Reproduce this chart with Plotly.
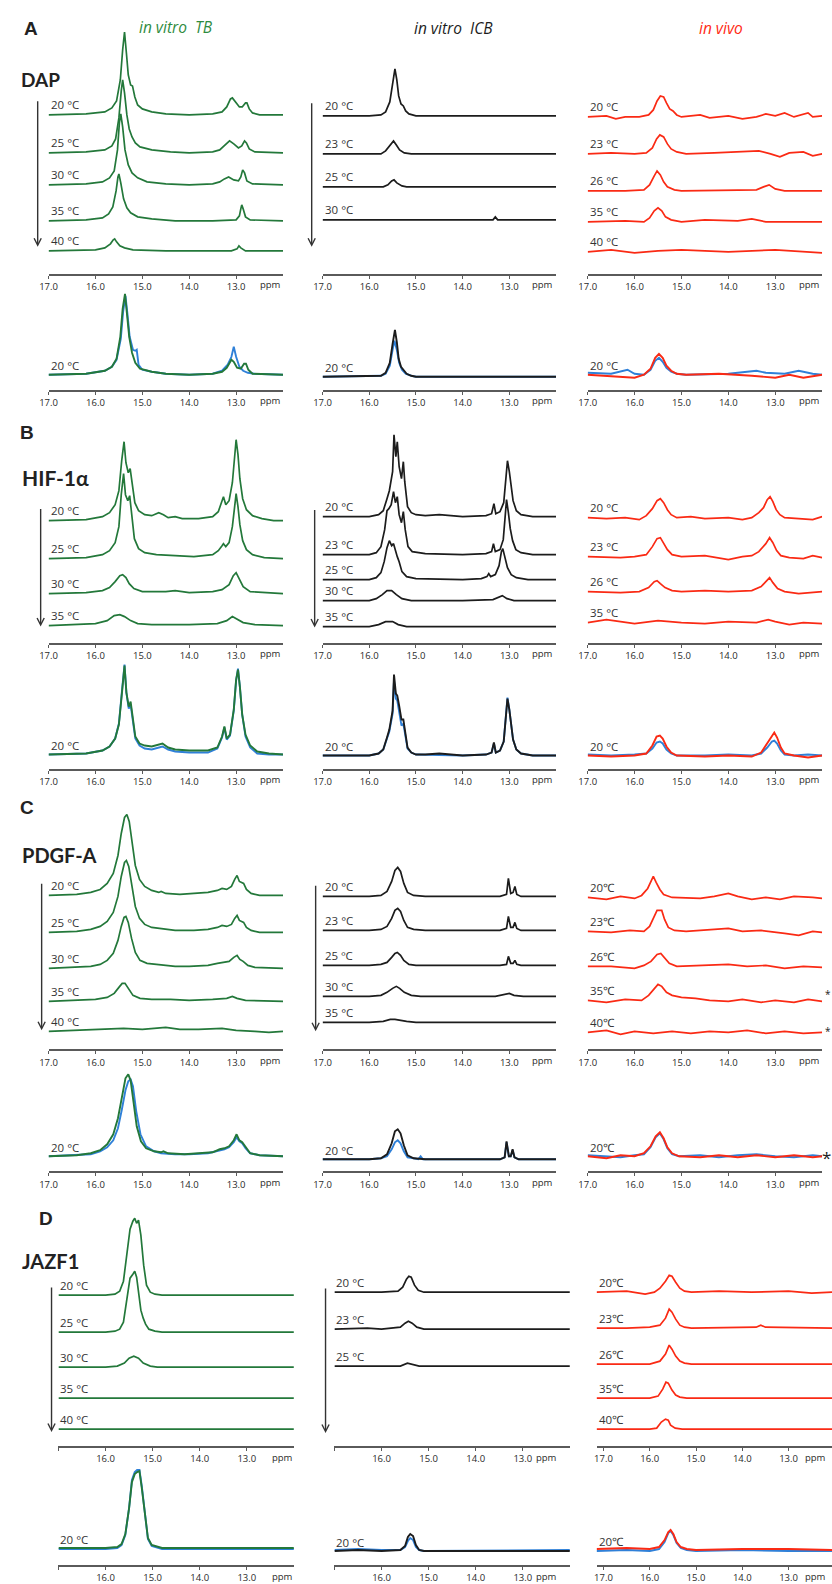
import plotly.graph_objects as go

W, H = 832, 1584

# ---------------------------------------------------------------
# DATA  (spectra read off the picture as "ppm:intensity" vertices,
# intensity in arbitrary units above each trace's baseline)
# ---------------------------------------------------------------
COLUMN_TITLES = ["in vitro  TB", "in vitro  ICB", "in vivo"]
SECTIONS = ["A", "B", "C", "D"]
CONSTRUCTS = ["DAP", "HIF-1α", "PDGF-A", "JAZF1"]
TICK_VALUES = [17.0, 16.0, 15.0, 14.0, 13.0]
TICK_LABELS = ["17.0", "16.0", "15.0", "14.0", "13.0"]

# ---- A : DAP ----
DAP_TB_TEMPS = ["20 °C", "25 °C", "30 °C", "35 °C", "40 °C"]
DAP_TB = [
    "17.0:0 16.2:1 15.8:3 15.65:7 15.55:14 15.47:35 15.42:65 15.38:83 15.34:62 15.3:40 15.25:30 15.21:29 15.16:18 15.1:10 15.0:6 14.8:3 14.5:1 14.0:0 13.5:1 13.3:3 13.2:8 13.12:16 13.08:17 13.0:12 12.93:8 12.87:8 12.8:12 12.77:12 12.72:6 12.65:2 12.5:0 12.0:0",
    "17.0:0 16.2:1 15.8:3 15.65:7 15.57:14 15.5:35 15.45:62 15.42:73 15.38:60 15.33:38 15.28:24 15.22:16 15.15:10 15.05:6 14.8:3 14.4:1 14.0:0 13.5:1 13.35:3 13.22:8 13.14:12 13.05:9 12.95:5 12.88:7 12.82:12 12.78:10 12.72:4 12.6:1 12.0:0",
    "17.0:0 16.2:1 15.85:3 15.7:7 15.6:14 15.53:35 15.49:62 15.46:71 15.42:58 15.37:35 15.3:20 15.22:12 15.1:7 14.9:3 14.5:1 14.0:0 13.5:1 13.35:3 13.25:6 13.16:8 13.05:5 12.95:4 12.9:8 12.86:15 12.82:12 12.77:4 12.65:1 12.0:0",
    "17.0:0 16.2:1 15.85:3 15.72:7 15.63:14 15.56:30 15.52:44 15.5:47 15.46:38 15.4:22 15.33:13 15.25:8 15.1:4 14.8:2 14.3:0 13.5:0 13.0:1 12.93:5 12.9:12 12.88:16 12.85:12 12.8:4 12.7:1 12.0:0",
    "17.0:0 16.0:1 15.8:3 15.68:7 15.62:11 15.59:12 15.55:9 15.48:5 15.38:3 15.2:1 14.5:0 13.1:0 12.98:2 12.94:5 12.9:3 12.8:0 12.0:0",
]
DAP_ICB_TEMPS = ["20 °C", "23 °C", "25 °C", "30 °C"]
DAP_ICB = [
    "17.0:0 16.0:0 15.75:1 15.65:4 15.56:14 15.5:32 15.45:47 15.41:36 15.37:20 15.32:12 15.27:10 15.22:5 15.15:2 15.0:0 12.0:0",
    "17.0:0 15.75:0 15.65:3 15.55:9 15.48:13 15.42:9 15.35:4 15.25:1 15.1:0 12.0:0",
    "17.0:0 15.7:0 15.6:2 15.52:6 15.47:7 15.41:4 15.3:1 15.2:0 12.0:0",
    "17.0:0 13.35:0 13.3:3 13.25:0 12.0:0",
]
DAP_VIVO_TEMPS = ["20 °C", "23 °C", "26 °C", "35 °C", "40 °C"]
DAP_VIVO = [
    "17.0:0 16.6:1 16.4:-2 16.2:0 15.9:0 15.7:2 15.6:7 15.52:16 15.45:21 15.38:20 15.32:14 15.25:8 15.18:6 15.1:2 15.0:0 14.6:2 14.4:-1 14.0:1 13.7:-2 13.4:0 13.2:3 13.0:1 12.8:4 12.6:0 12.3:4 12.2:0 12.0:1",
    "17.0:0 16.5:1 16.0:0 15.75:1 15.62:6 15.53:15 15.46:19 15.38:17 15.3:10 15.22:5 15.1:2 14.9:0 14.3:1 13.6:2 13.35:3 13.1:0 12.9:-3 12.7:1 12.4:2 12.2:-2 12.0:0",
    "17.0:0 16.2:0 15.8:1 15.68:6 15.58:15 15.52:20 15.45:16 15.38:9 15.3:4 15.15:1 15.0:0 13.4:1 13.25:4 13.13:6 13.0:2 12.8:0 12.0:0",
    "17.0:0 16.2:1 15.8:0 15.68:4 15.58:11 15.5:14 15.42:11 15.34:5 15.22:2 15.0:0 14.5:2 13.8:1 13.5:3 13.2:0 12.0:0",
    "17.0:0 16.5:2 16.0:-1 15.5:1 15.0:2 14.0:0 13.0:2 12.0:-1",
]
DAP_OVERLAY_TB = [
    "17.0:0 16.2:1 15.8:4 15.65:8 15.55:15 15.46:36 15.41:63 15.36:79 15.32:62 15.27:38 15.2:25 15.15:24 15.12:25 15.08:10 15.0:5 14.8:3 14.5:1 14.0:0 13.5:1 13.3:4 13.18:10 13.1:18 13.05:28 13.0:18 12.93:8 12.85:4 12.75:2 12.6:1 12.0:0",
    "17.0:0 16.2:1 15.8:4 15.65:8 15.55:16 15.47:38 15.42:66 15.37:81 15.33:62 15.28:38 15.22:22 15.15:12 15.05:6 14.8:3 14.5:1 14.0:0 13.5:1 13.3:3 13.2:7 13.1:15 13.05:13 12.98:7 12.9:6 12.83:11 12.79:11 12.74:5 12.65:1 12.0:0",
]
DAP_OVERLAY_ICB = [
    "17.0:0 15.75:1 15.65:3 15.56:11 15.5:27 15.46:36 15.41:27 15.36:14 15.3:7 15.22:3 15.1:1 15.0:0 12.0:0",
    "17.0:0 15.75:1 15.65:4 15.56:14 15.5:33 15.45:47 15.41:35 15.37:18 15.32:10 15.27:7 15.2:3 15.1:1 15.0:0 12.0:0",
]
DAP_OVERLAY_VIVO = [
    "17.0:2 16.5:1 16.15:5 16.0:1 15.8:0 15.66:5 15.56:14 15.48:17 15.4:13 15.32:7 15.22:3 15.1:1 14.9:0 14.0:1 13.4:4 13.2:2 12.8:1 12.5:4 12.2:1 12.0:0",
    "17.0:0 16.3:-2 16.0:-3 15.8:0 15.66:6 15.56:17 15.48:21 15.4:17 15.32:9 15.22:4 15.1:1 14.9:0 14.2:1 13.5:-1 13.0:-3 12.7:0 12.4:-3 12.0:0",
]

# ---- B : HIF-1α ----
HIF_TB_TEMPS = ["20 °C", "25 °C", "30 °C", "35 °C"]
HIF_TB = [
    "17.0:0 16.2:1 15.85:4 15.7:8 15.58:16 15.5:30 15.44:60 15.39:79 15.35:58 15.3:48 15.26:52 15.22:38 15.16:18 15.08:10 14.95:6 14.8:5 14.65:8 14.55:6 14.45:3 14.3:4 14.15:2 13.8:2 13.5:4 13.38:9 13.3:20 13.27:24 13.22:16 13.15:20 13.08:38 13.03:65 13.0:81 12.96:66 12.92:42 12.86:22 12.78:11 12.65:5 12.45:2 12.2:0 12.0:0",
    "17.0:0 16.2:1 15.85:4 15.7:8 15.58:16 15.5:32 15.45:64 15.4:85 15.36:64 15.31:58 15.27:63 15.23:44 15.17:20 15.08:10 14.95:6 14.7:4 14.3:3 13.9:2 13.5:4 13.38:8 13.3:13 13.27:15 13.22:12 13.15:16 13.08:32 13.03:54 13.0:65 12.96:52 12.92:34 12.86:18 12.78:9 12.65:4 12.4:1 12.0:0",
    "17.0:0 16.2:1 15.85:3 15.7:6 15.58:12 15.48:18 15.42:19 15.35:16 15.28:10 15.18:5 15.0:2 14.5:2 14.3:3 14.0:1 13.5:2 13.3:4 13.15:9 13.06:18 13.0:21 12.94:15 12.85:7 12.7:2 12.4:1 12.0:0",
    "17.0:0 16.4:1 16.0:2 15.75:5 15.6:10 15.48:11 15.38:9 15.25:5 15.1:2 14.8:1 14.0:1 13.4:2 13.2:5 13.08:9 13.0:7 12.85:3 12.6:1 12.0:0",
]
HIF_ICB_TEMPS = ["20 °C", "23 °C", "25 °C", "30 °C", "35 °C"]
HIF_ICB = [
    "17.0:0 16.0:0 15.8:2 15.7:6 15.62:18 15.57:26 15.5:45 15.47:82 15.43:60 15.4:75 15.36:50 15.31:38 15.27:55 15.24:35 15.18:10 15.1:4 15.0:2 14.8:1 14.5:2 14.0:0 13.5:1 13.38:3 13.33:13 13.29:3 13.2:5 13.12:14 13.07:40 13.04:56 13.0:45 12.96:30 12.92:16 12.85:6 12.75:2 12.5:0 12.0:0",
    "17.0:0 16.0:0 15.85:2 15.75:8 15.67:25 15.62:44 15.58:46 15.53:50 15.48:63 15.44:52 15.4:58 15.36:40 15.31:32 15.27:43 15.23:25 15.17:8 15.08:3 14.8:1 14.0:0 13.5:1 13.38:3 13.34:11 13.3:3 13.2:5 13.13:15 13.09:42 13.06:55 13.02:42 12.98:26 12.93:14 12.86:5 12.75:2 12.5:0 12.0:0",
    "17.0:0 16.0:0 15.85:2 15.75:7 15.68:18 15.62:32 15.57:39 15.52:34 15.48:36 15.44:28 15.4:23 15.36:18 15.3:8 15.2:3 15.0:1 14.0:0 13.6:1 13.48:3 13.44:6 13.4:3 13.3:5 13.22:14 13.17:28 13.14:31 13.1:24 13.04:12 12.96:5 12.85:2 12.6:0 12.0:0",
    "17.0:0 16.0:0 15.85:2 15.72:6 15.62:10 15.52:10 15.42:6 15.3:2 15.1:0 14.0:0 13.35:1 13.22:4 13.15:5 13.05:2 12.9:0 12.0:0",
    "17.0:0 16.0:0 15.8:2 15.65:5 15.5:5 15.38:2 15.2:0 12.0:0",
]
HIF_VIVO_TEMPS = ["20 °C", "23 °C", "26 °C", "35 °C"]
HIF_VIVO = [
    "17.0:0 16.6:-1 16.2:0 15.9:-2 15.75:2 15.62:9 15.52:17 15.45:19 15.38:15 15.3:8 15.22:3 15.1:0 14.8:1 14.5:-1 14.0:0 13.7:-2 13.5:0 13.35:5 13.25:10 13.17:18 13.11:21 13.05:16 12.98:8 12.9:3 12.8:0 12.5:-1 12.2:-2 12.0:1",
    "17.0:0 16.3:-1 16.0:0 15.75:2 15.62:10 15.52:18 15.45:19 15.38:14 15.3:7 15.2:2 15.0:0 14.5:1 14.0:-3 13.7:0 13.5:1 13.35:5 13.2:13 13.12:19 13.05:14 12.97:6 12.88:1 12.7:-1 12.4:-2 12.2:1 12.0:-1",
    "17.0:0 16.3:-1 15.9:0 15.7:4 15.58:10 15.52:11 15.45:8 15.35:4 15.2:1 15.0:0 14.5:1 14.0:0 13.5:1 13.3:5 13.18:11 13.12:14 13.05:9 12.95:3 12.8:0 12.5:-2 12.0:0",
    "17.0:0 16.6:3 16.3:1 16.0:-1 15.5:2 15.0:0 14.5:-1 14.0:1 13.4:0 13.15:3 13.0:1 12.7:-2 12.4:0 12.0:-1",
]
HIF_OVERLAY_TB = [
    "17.0:0 16.2:1 15.85:4 15.7:8 15.58:16 15.5:31 15.43:66 15.38:90 15.34:62 15.29:46 15.25:50 15.21:36 15.15:16 15.06:9 14.95:6 14.8:5 14.65:7 14.57:8 14.45:5 14.3:3 14.0:2 13.6:2 13.4:6 13.3:17 13.25:27 13.2:15 13.13:19 13.05:44 13.0:74 12.96:86 12.92:68 12.87:40 12.8:18 12.7:7 12.55:1 12.3:0 12.0:0",
    "17.0:0 16.2:1 15.85:4 15.7:8 15.58:16 15.5:30 15.43:64 15.38:89 15.34:62 15.29:48 15.25:53 15.21:38 15.15:18 15.06:11 14.95:9 14.8:8 14.65:10 14.57:11 14.45:7 14.3:5 14.0:4 13.6:4 13.4:7 13.3:18 13.25:28 13.2:16 13.13:20 13.05:45 13.0:75 12.96:85 12.92:68 12.87:40 12.8:20 12.7:9 12.55:3 12.3:1 12.0:0",
]
HIF_OVERLAY_ICB = [
    "17.0:0 16.0:0 15.8:2 15.7:6 15.62:17 15.57:24 15.5:42 15.47:75 15.43:57 15.4:55 15.36:44 15.31:30 15.27:32 15.24:22 15.18:7 15.1:3 15.0:1 14.0:0 13.5:1 13.38:3 13.33:12 13.29:3 13.2:5 13.12:14 13.07:40 13.04:58 13.0:46 12.96:30 12.92:16 12.85:6 12.75:2 12.5:0 12.0:0",
    "17.0:0 16.0:0 15.8:2 15.7:6 15.62:18 15.57:26 15.5:45 15.47:81 15.43:62 15.4:60 15.36:50 15.31:36 15.27:36 15.24:25 15.18:8 15.1:3 15.0:1 14.8:1 14.5:2 14.0:0 13.5:1 13.38:3 13.33:13 13.29:3 13.2:5 13.12:14 13.07:40 13.04:57 13.0:46 12.96:30 12.92:16 12.85:6 12.75:2 12.5:0 12.0:0",
]
HIF_OVERLAY_VIVO = [
    "17.0:1 16.5:0 16.0:1 15.75:2 15.62:7 15.53:13 15.46:14 15.4:12 15.32:6 15.22:2 15.1:0 14.5:0 14.0:1 13.5:0 13.3:2 13.17:8 13.07:14 13.02:15 12.96:12 12.88:5 12.8:1 12.6:0 12.3:1 12.0:0",
    "17.0:0 16.5:-1 16.0:0 15.75:2 15.62:10 15.53:19 15.46:20 15.4:17 15.32:9 15.22:3 15.1:0 14.5:-1 14.0:0 13.5:-1 13.3:3 13.17:12 13.07:20 13.02:23 12.96:18 12.88:8 12.8:2 12.6:0 12.3:-2 12.0:0",
]

# ---- C : PDGF-A ----
PDGF_TB_TEMPS = ["20 °C", "25 °C", "30 °C", "35 °C", "40 °C"]
PDGF_TB = [
    "17.0:0 16.4:1 16.1:3 15.9:6 15.75:12 15.62:22 15.52:40 15.45:62 15.38:78 15.33:81 15.28:74 15.22:52 15.15:30 15.06:16 14.95:9 14.8:5 14.65:3 14.6:4 14.5:2 14.2:1 13.9:2 13.6:3 13.4:5 13.3:7 13.2:6 13.1:9 13.03:16 12.98:20 12.93:14 12.88:13 12.84:12 12.78:6 12.68:2 12.5:0 12.0:0",
    "17.0:0 16.4:1 16.1:3 15.9:6 15.75:11 15.62:20 15.52:36 15.45:56 15.38:70 15.34:72 15.29:66 15.22:46 15.15:26 15.06:14 14.95:8 14.8:5 14.6:4 14.3:2 13.9:2 13.6:3 13.4:5 13.3:7 13.2:6 13.1:8 13.03:14 12.98:17 12.93:12 12.88:11 12.84:10 12.78:5 12.68:2 12.5:0 12.0:0",
    "17.0:0 16.4:1 16.1:2 15.9:4 15.75:8 15.62:15 15.52:28 15.45:42 15.39:51 15.35:52 15.3:46 15.23:30 15.15:16 15.05:8 14.9:5 14.7:4 14.5:3 14.3:2 14.0:2 13.6:3 13.4:5 13.3:6 13.15:7 13.05:11 12.98:13 12.92:9 12.85:7 12.75:3 12.6:1 12.0:0",
    "17.0:0 16.4:1 16.0:2 15.75:4 15.6:8 15.5:14 15.43:18 15.37:18 15.3:13 15.2:6 15.05:3 14.8:2 14.4:2 14.0:1 13.5:2 13.2:3 13.08:5 12.98:3 12.8:1 12.0:0",
    "17.0:0 16.5:1 16.0:2 15.4:3 15.0:2 14.5:4 14.2:2 13.8:2 13.3:3 13.0:1 12.6:0 12.3:-1 12.0:0",
]
PDGF_ICB_TEMPS = ["20 °C", "23 °C", "25 ºC", "30 °C", "35 °C"]
PDGF_ICB = [
    "17.0:0 16.0:0 15.75:1 15.62:5 15.52:15 15.45:26 15.39:29 15.33:25 15.26:13 15.18:4 15.05:1 14.8:0 13.2:0 13.06:2 13.02:18 12.97:3 12.92:4 12.88:10 12.84:2 12.75:0 12.0:0",
    "17.0:0 16.0:0 15.75:1 15.62:4 15.52:12 15.45:20 15.39:22 15.33:19 15.26:10 15.18:3 15.05:1 14.8:0 13.2:0 13.06:2 13.02:14 12.97:3 12.92:3 12.88:8 12.84:2 12.75:0 12.0:0",
    "17.0:0 16.0:0 15.75:1 15.62:3 15.52:8 15.45:12 15.4:13 15.33:10 15.26:5 15.15:1 15.0:0 13.2:0 13.06:1 13.02:9 12.97:2 12.92:2 12.88:5 12.84:1 12.75:0 12.0:0",
    "17.0:0 16.0:0 15.75:1 15.62:4 15.5:8 15.42:10 15.35:8 15.25:4 15.1:1 14.9:0 13.3:0 13.1:2 13.0:3 12.9:1 12.7:0 12.0:0",
    "17.0:0 16.0:0 15.7:1 15.55:3 15.45:3 15.35:2 15.2:1 15.0:0 12.0:0",
]
PDGF_VIVO_TEMPS = ["20℃", "23℃", "26℃", "35℃", "40℃"]
PDGF_VIVO = [
    "17.0:0 16.6:-2 16.3:1 16.0:-1 15.85:2 15.72:9 15.64:17 15.6:21 15.54:15 15.46:8 15.38:3 15.2:0 14.6:-1 14.3:1 14.0:4 13.8:1 13.5:-2 13.2:0 12.9:-2 12.6:1 12.2:0 12.0:-1",
    "17.0:0 16.5:-1 16.1:1 15.8:0 15.68:5 15.58:14 15.52:21 15.42:21 15.36:12 15.28:4 15.15:1 14.9:0 14.5:1 14.0:3 13.7:0 13.3:1 12.8:-2 12.5:-4 12.2:0 12.0:-1",
    "17.0:0 16.5:0 16.0:-2 15.8:1 15.65:5 15.52:12 15.44:13 15.36:8 15.26:3 15.1:0 14.5:1 14.0:2 13.6:0 13.2:1 12.8:-2 12.4:0 12.0:-1",
    "17.0:0 16.6:-2 16.2:1 15.85:0 15.7:5 15.58:12 15.5:16 15.42:14 15.32:8 15.2:5 15.0:3 14.7:2 14.4:0 14.0:-1 13.7:1 13.3:-2 13.0:0 12.6:-2 12.3:1 12.0:-1",
    "17.0:0 16.6:2 16.3:-2 16.0:1 15.6:-1 15.2:1 14.8:-1 14.4:1 14.0:0 13.6:2 13.2:-1 12.8:1 12.4:-1 12.0:0",
]
PDGF_OVERLAY_TB = [
    "17.0:0 16.4:1 16.1:2 15.9:5 15.75:9 15.62:16 15.52:28 15.44:46 15.36:66 15.3:75 15.25:77 15.2:70 15.13:45 15.04:22 14.92:10 14.75:5 14.6:3 14.3:2 14.0:2 13.6:3 13.4:5 13.25:7 13.15:9 13.05:14 12.99:19 12.93:15 12.87:13 12.8:8 12.7:3 12.5:1 12.0:0",
    "17.0:0 16.4:1 16.1:3 15.9:6 15.75:12 15.62:22 15.52:38 15.44:60 15.36:78 15.3:82 15.25:76 15.19:55 15.12:30 15.03:15 14.92:8 14.75:5 14.6:4 14.55:5 14.45:3 14.1:2 13.8:3 13.5:4 13.35:7 13.25:8 13.15:10 13.05:16 12.99:22 12.93:16 12.87:14 12.8:9 12.7:3 12.5:1 12.0:0",
]
PDGF_OVERLAY_ICB = [
    "17.0:0 16.0:0 15.75:1 15.62:3 15.52:10 15.45:17 15.39:19 15.33:16 15.26:8 15.18:2 15.05:1 14.95:0 14.9:3 14.85:0 13.2:0 13.1:2 13.06:17 13.01:3 12.97:3 12.93:9 12.89:2 12.8:0 12.0:0",
    "17.0:0 16.0:0 15.75:1 15.62:5 15.52:16 15.45:28 15.39:30 15.33:26 15.26:14 15.18:4 15.05:1 14.8:0 13.2:0 13.1:2 13.06:18 13.01:3 12.97:3 12.93:10 12.89:2 12.8:0 12.0:0",
]
PDGF_OVERLAY_VIVO = [
    "17.0:1 16.6:0 16.3:-1 16.0:1 15.8:2 15.66:9 15.55:19 15.46:23 15.38:17 15.3:8 15.2:2 15.05:0 14.6:1 14.2:-1 13.8:1 13.4:2 13.0:0 12.6:-1 12.2:1 12.0:0",
    "17.0:0 16.6:-2 16.3:1 16.0:0 15.8:3 15.66:10 15.55:20 15.46:24 15.38:18 15.3:9 15.2:3 15.05:0 14.6:-1 14.2:1 13.8:-1 13.4:1 13.0:-1 12.6:1 12.2:-1 12.0:0",
]

# ---- D : JAZF1 ----
JAZF_TB_TEMPS = ["20 °C", "25 °C", "30 °C", "35 °C", "40 °C"]
JAZF_TB = [
    "17.0:0 16.0:0 15.8:1 15.7:4 15.62:14 15.55:38 15.48:66 15.42:74 15.38:77 15.34:72 15.3:75 15.25:60 15.19:30 15.13:10 15.05:3 14.95:1 14.8:0 12.0:0",
    "17.0:0 16.0:0 15.8:1 15.7:3 15.62:10 15.55:30 15.48:54 15.42:58 15.38:61 15.34:55 15.3:40 15.25:22 15.2:14 15.15:8 15.08:3 14.95:1 14.8:0 12.0:0",
    "17.0:0 16.0:0 15.75:1 15.6:4 15.5:9 15.4:11 15.3:9 15.2:4 15.05:1 14.9:0 12.0:0",
    "17.0:0 12.0:0",
    "17.0:0 12.0:0",
]
JAZF_ICB_TEMPS = ["20 °C", "23 °C", "25 °C"]
JAZF_ICB = [
    "17.0:0 16.0:0 15.65:1 15.55:5 15.47:13 15.42:16 15.37:15 15.3:7 15.22:2 15.1:0 12.0:0",
    "17.0:0 16.3:1 16.0:0 15.6:2 15.5:6 15.43:8 15.35:6 15.25:2 15.1:0 12.0:0",
    "17.0:0 15.6:0 15.45:3 15.3:1 15.2:0 12.0:0",
]
JAZF_VIVO_TEMPS = ["20℃", "23℃", "26℃", "35℃", "40℃"]
JAZF_VIVO = [
    "17.15:0 16.5:1 16.1:-2 15.9:0 15.78:4 15.66:11 15.58:17 15.52:16 15.44:10 15.35:4 15.25:1 15.1:0 14.5:1 13.8:0 13.0:1 12.5:-1 12.06:0",
    "17.15:0 16.5:0 16.0:1 15.78:3 15.66:10 15.58:19 15.52:16 15.44:9 15.35:3 15.25:1 15.1:0 14.3:1 13.7:1 13.6:3 13.5:1 12.06:0",
    "17.15:0 16.0:0 15.78:3 15.66:10 15.58:19 15.52:15 15.44:8 15.35:3 15.25:1 15.1:0 12.06:0",
    "17.15:0 16.0:0 15.82:2 15.72:9 15.65:16 15.6:15 15.52:8 15.44:3 15.35:1 15.2:0 12.06:0",
    "17.15:0 16.0:0 15.85:1 15.75:7 15.66:10 15.6:9 15.55:4 15.45:1 15.3:0 12.06:0",
]
JAZF_OVERLAY_TB = [
    "17.0:-1 16.0:-1 15.75:0 15.66:3 15.58:13 15.5:40 15.44:68 15.38:76 15.33:78 15.28:78 15.23:62 15.16:30 15.1:9 15.02:2 14.9:0 14.8:-1 12.0:-1",
    "17.0:0 16.0:0 15.75:1 15.66:4 15.58:14 15.5:40 15.44:66 15.38:74 15.33:76 15.28:77 15.23:60 15.16:30 15.1:10 15.02:3 14.9:1 14.8:0 12.0:0",
]
JAZF_OVERLAY_ICB = [
    "17.0:1 16.5:2 16.0:1 15.6:1 15.5:4 15.44:10 15.39:13 15.33:11 15.27:4 15.2:1 15.1:0 12.0:1",
    "17.0:0 16.5:1 16.0:0 15.6:1 15.5:5 15.44:14 15.39:17 15.33:15 15.27:6 15.2:1 15.1:0 12.0:0",
]
JAZF_OVERLAY_VIVO = [
    "17.15:-1 16.5:0 16.0:-1 15.8:1 15.68:8 15.6:17 15.55:19 15.49:15 15.42:7 15.33:2 15.2:0 15.0:-1 14.0:0 13.0:-1 12.06:-1",
    "17.15:1 16.5:2 16.0:1 15.8:3 15.68:10 15.6:18 15.55:20 15.49:16 15.42:8 15.33:3 15.2:1 15.0:0 14.0:1 13.0:1 12.06:0",
]

# ---------------------------------------------------------------
# LAYOUT / STYLE (page-pixel positions)
# ---------------------------------------------------------------
GREEN, BLACK, RED, BLUE = "#23783a", "#1c1c1c", "#fa2a14", "#2f80d8"
COL_COLORS = [GREEN, BLACK, RED]
TITLE_COLORS = ["#2e8b3e", "#1c1c1c", "#ff2a14"]

# block -> (top px, axis-line px)
BLOCKS = {
    "A": (28, 274), "A_ov": (286, 390),
    "B": (428, 643), "B_ov": (655, 769),
    "C": (803, 1050), "C_ov": (1063, 1172),
    "D": (1203, 1447), "D_ov": (1458, 1566),
}
COLS_STD = [(40, 277), (317, 553), (585, 822)]
COLS_D = [(50, 288), (329, 567), (594, 832)]
XR_STD = [(17.0, 12.0)] * 3
XR_D = [(17.0, 12.0), (17.0, 12.0), (17.15, 12.06)]
PPM_X_STD = [12.27, 12.28, 12.26]
PPM_X_D = [12.25, 12.5, 12.42]

BASE = {
    ("A", 0): [115, 153, 185, 221, 251], ("A", 1): [116, 154, 187, 220], ("A", 2): [117, 154, 191, 222, 252],
    ("B", 0): [521, 559, 594, 626], ("B", 1): [517, 555, 580, 601, 627], ("B", 2): [518, 557, 592, 623],
    ("C", 0): [896, 933, 969, 1002, 1032], ("C", 1): [897, 931, 966, 997, 1023], ("C", 2): [898, 932, 967, 1001, 1033],
    ("D", 0): [1296, 1333, 1368, 1399, 1430], ("D", 1): [1293, 1330, 1367], ("D", 2): [1293, 1329, 1365, 1399, 1430],
}
BASE_OV = {"A": [375, 377, 375], "B": [755, 756, 756], "C": [1157, 1160, 1157], "D": [1549, 1552, 1551]}

STACKS = {
    "A": [(DAP_TB_TEMPS, DAP_TB), (DAP_ICB_TEMPS, DAP_ICB), (DAP_VIVO_TEMPS, DAP_VIVO)],
    "B": [(HIF_TB_TEMPS, HIF_TB), (HIF_ICB_TEMPS, HIF_ICB), (HIF_VIVO_TEMPS, HIF_VIVO)],
    "C": [(PDGF_TB_TEMPS, PDGF_TB), (PDGF_ICB_TEMPS, PDGF_ICB), (PDGF_VIVO_TEMPS, PDGF_VIVO)],
    "D": [(JAZF_TB_TEMPS, JAZF_TB), (JAZF_ICB_TEMPS, JAZF_ICB), (JAZF_VIVO_TEMPS, JAZF_VIVO)],
}
OVERLAYS = {
    "A": [DAP_OVERLAY_TB, DAP_OVERLAY_ICB, DAP_OVERLAY_VIVO],
    "B": [HIF_OVERLAY_TB, HIF_OVERLAY_ICB, HIF_OVERLAY_VIVO],
    "C": [PDGF_OVERLAY_TB, PDGF_OVERLAY_ICB, PDGF_OVERLAY_VIVO],
    "D": [JAZF_OVERLAY_TB, JAZF_OVERLAY_ICB, JAZF_OVERLAY_VIVO],
}
OV_LABELS = {"A": ["20 °C"] * 3, "B": ["20 °C"] * 3, "C": ["20 °C", "20 °C", "20℃"], "D": ["20 °C", "20 °C", "20℃"]}

ARROWS = [(29, 100, 247), (306, 102, 247), (32, 508, 627), (309, 509, 628),
          (33, 883, 1031), (310, 885, 1032), (43, 1287, 1433), (320, 1288, 1434)]
SECTION_POS = [(22, 29), (18, 433), (18, 808), (37, 1219)]
CONSTRUCT_POS = [(10, 80, 19), (11, 478, 21), (11, 856, 20), (11, 1262, 20)]
TITLE_POS = [(169, 27), (449, 28), (720, 28)]
ASTERISKS = [(828, 995, 10), (828, 1032, 10), (826, 1158, 17)]

LABEL_FONT = dict(family="Open Sans, sans-serif", size=11.5, color="#333333")
TICK_FONT = dict(family="Open Sans, sans-serif", size=9.5, color="#2a2a2a")


def px_x(p):
    return p / W


def px_y(p):
    return 1 - p / H


def parse(s):
    ppm, inten = [], []
    for tok in s.split():
        a, b = tok.split(":")
        ppm.append(float(a))
        inten.append(float(b))
    return ppm, inten


fig = go.Figure()
layout = dict(width=W, height=H, margin=dict(l=0, r=0, t=0, b=0),
              paper_bgcolor="white", plot_bgcolor="white", showlegend=False)
annotations = []
k = 0

for sec in SECTIONS:
    for row in (sec, sec + "_ov"):
        top, axis_px = BLOCKS[row]
        span = axis_px - top
        cols = COLS_D if sec == "D" else COLS_STD
        xrs = XR_D if sec == "D" else XR_STD
        ppmx = PPM_X_D if sec == "D" else PPM_X_STD
        for c in range(3):
            k += 1
            xa = "xaxis" if k == 1 else f"xaxis{k}"
            ya = "yaxis" if k == 1 else f"yaxis{k}"
            xr = "x" if k == 1 else f"x{k}"
            yr = "y" if k == 1 else f"y{k}"
            ticktext = list(TICK_LABELS)
            if sec == "D" and c < 2:
                ticktext[0] = ""
            layout[xa] = dict(domain=[px_x(cols[c][0]), px_x(cols[c][1])], range=list(xrs[c]),
                              anchor=yr, showline=True, linecolor="#5a5a5a", linewidth=2,
                              ticks="outside", ticklen=3, tickwidth=1, tickcolor="#5a5a5a",
                              tickvals=TICK_VALUES, ticktext=ticktext, tickfont=TICK_FONT,
                              showgrid=False, zeroline=False, fixedrange=True)
            layout[ya] = dict(domain=[px_y(axis_px), px_y(top)], range=[0, span], anchor=xr,
                              visible=False, showgrid=False, zeroline=False, fixedrange=True)
            annotations.append(dict(text="ppm", xref=xr, yref=yr, x=ppmx[c], y=0, yshift=-11,
                                    showarrow=False, xanchor="center", yanchor="middle",
                                    font=TICK_FONT))
            x0 = xrs[c][0]
            if row == sec:
                temps, spectra = STACKS[sec][c]
                bases = BASE[(sec, c)]
                for t, s, b in zip(temps, spectra, bases):
                    ppm, inten = parse(s)
                    off = axis_px - b
                    fig.add_trace(go.Scatter(x=ppm, y=[off + v for v in inten], mode="lines",
                                             line=dict(color=COL_COLORS[c], width=1.7),
                                             xaxis=xr, yaxis=yr, hoverinfo="skip"))
                    annotations.append(dict(text=t, xref=xr, yref=yr, x=x0, y=off + 10,
                                            xanchor="left", yanchor="middle", showarrow=False,
                                            font=LABEL_FONT))
            else:
                b = BASE_OV[sec][c]
                off = axis_px - b
                blue_s, main_s = OVERLAYS[sec][c]
                for s, col in ((blue_s, BLUE), (main_s, COL_COLORS[c])):
                    ppm, inten = parse(s)
                    fig.add_trace(go.Scatter(x=ppm, y=[off + v for v in inten], mode="lines",
                                             line=dict(color=col, width=1.9),
                                             xaxis=xr, yaxis=yr, hoverinfo="skip"))
                annotations.append(dict(text=OV_LABELS[sec][c], xref=xr, yref=yr, x=x0, y=off + 9,
                                        xanchor="left", yanchor="middle", showarrow=False,
                                        font=LABEL_FONT))

# column titles
for (tx, ty), txt, col in zip(TITLE_POS, COLUMN_TITLES, TITLE_COLORS):
    annotations.append(dict(text=f"<i>{txt}</i>", xref="paper", yref="paper", x=px_x(tx), y=px_y(ty),
                            xanchor="center", yanchor="middle", showarrow=False,
                            font=dict(family="Open Sans, sans-serif", size=15.5, color=col)))
# section letters and construct names
for (sx, sy), letter in zip(SECTION_POS, SECTIONS):
    annotations.append(dict(text=f"<b>{letter}</b>", xref="paper", yref="paper", x=px_x(sx), y=px_y(sy),
                            xanchor="center", yanchor="middle", showarrow=False,
                            font=dict(family="Liberation Sans, Arial, sans-serif", size=19, color="#222222")))
for (cx, cy, cs), name in zip(CONSTRUCT_POS, CONSTRUCTS):
    annotations.append(dict(text=f"<b>{name}</b>", xref="paper", yref="paper", x=px_x(cx), y=px_y(cy),
                            xanchor="left", yanchor="middle", showarrow=False,
                            font=dict(family="Lato, sans-serif", size=cs, color="#222222")))
# temperature arrows
for ax_, y0, y1 in ARROWS:
    annotations.append(dict(text="", xref="paper", yref="paper", x=px_x(ax_), y=px_y(y1),
                            ax=0, ay=-(y1 - y0), showarrow=True, arrowhead=5, arrowsize=1,
                            arrowwidth=1.4, arrowcolor="#333333"))
for ax_, ay_, sz in ASTERISKS:
    annotations.append(dict(text="*", xref="paper", yref="paper", x=px_x(ax_), y=px_y(ay_),
                            xanchor="center", yanchor="middle", showarrow=False,
                            font=dict(family="Open Sans, sans-serif", size=sz, color="#222222")))

layout["annotations"] = annotations
fig.update_layout(**layout)
# remove the browser's default 8px body margin so the 832x1584 figure fills the window exactly
fig.write_html("out.html", config={"displayModeBar": False},
               post_script="document.body.style.margin='0';document.body.style.overflow='hidden';")
